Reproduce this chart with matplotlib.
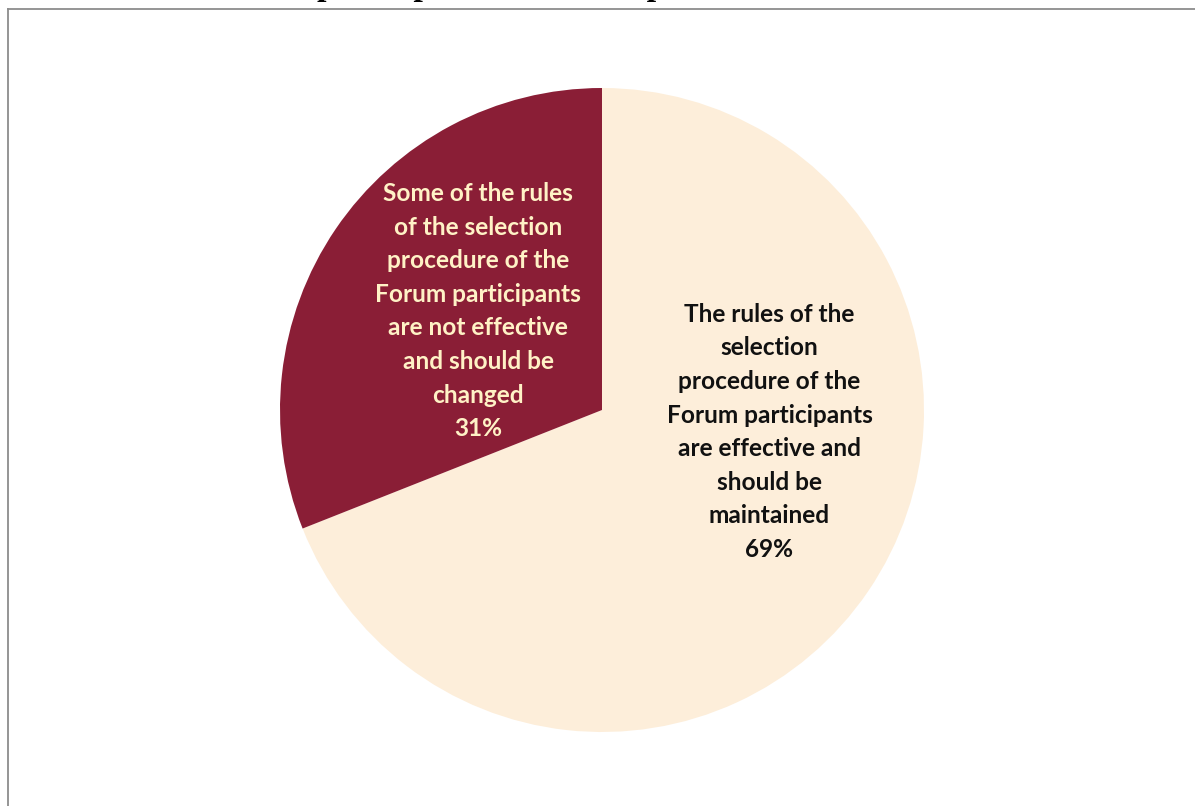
import matplotlib
matplotlib.use("Agg")
import matplotlib.pyplot as plt
from matplotlib.lines import Line2D

# ---- data ----
categories = [
    "The rules of the\nselection\nprocedure of the\nForum participants\nare effective and\nshould be\nmaintained",
    "Some of the rules\nof the selection\nprocedure of the\nForum participants\nare not effective\nand should be\nchanged",
]
values = [69, 31]
colors = ["#FDEEDA", "#8A1E36"]
text_colors = ["#111111", "#FFF2C6"]
label_pos = [(0.52, -0.068), (-0.385, 0.307)]
title_prefix = "Attitude of the Forum "
title_rest = "participants about the procedure"

W, H = 1195, 806
fig = plt.figure(figsize=(W / 100, H / 100), dpi=100)
fig.patch.set_facecolor("white")

# pie axes: center (602, 410) px, radius 322 px
cx, cy, r = 602, 410, 322
ax = fig.add_axes([(cx - r) / W, (H - cy - r) / H, 2 * r / W, 2 * r / H])
ax.pie(values, colors=colors, startangle=90, counterclock=False,
       wedgeprops=dict(linewidth=0))
ax.set_xlim(-1, 1)
ax.set_ylim(-1, 1)
ax.set_aspect("equal")
ax.axis("off")

for cat, v, tc, (x, y) in zip(categories, values, text_colors, label_pos):
    ax.text(x, y, f"{cat}\n{v}%", ha="center", va="center", color=tc,
            fontsize=17.6, fontweight="bold", family=["Lato", "DejaVu Sans"],
            linespacing=1.56)

# frame lines (top and left)
fig.add_artist(Line2D([7.5 / W, 1.0], [1 - 8.5 / H, 1 - 8.5 / H],
                      transform=fig.transFigure, color="#8C8C8C", lw=1.3))
fig.add_artist(Line2D([7.5 / W, 7.5 / W], [0, 1 - 8.5 / H],
                      transform=fig.transFigure, color="#8C8C8C", lw=1.3))

# title, mostly cut off above the top edge
fs = 24.5
renderer = fig.canvas.get_renderer()
probe = fig.text(0, 0, title_prefix, fontsize=fs, fontweight="bold",
                 family="Liberation Serif")
pw = probe.get_window_extent(renderer).width
probe.remove()
x0 = 317 - pw
fig.text(x0 / W, 1 + 5.5 / H, title_prefix + title_rest, fontsize=fs,
         fontweight="bold", family="Liberation Serif", va="baseline",
         ha="left", color="black")

fig.savefig("out.png", dpi=100)
